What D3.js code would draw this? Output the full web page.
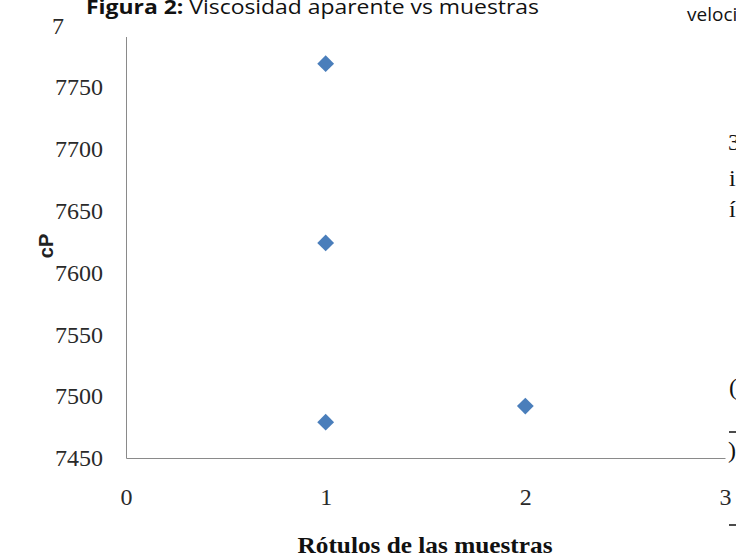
<!DOCTYPE html>
<html>
<head>
<meta charset="utf-8">
<script src="https://cdn.jsdelivr.net/npm/d3@7"></script>
<style>
  body { margin: 0; background: #fff; }
  svg { display: block; }
</style>
</head>
<body>
<div id="chart"></div>
<script>
// data
var sampleX = [1, 1, 1, 2];
var viscosity = [7769, 7624, 7479, 7492];
var yTicks = [7450, 7500, 7550, 7600, 7650, 7700, 7750, 7800];
var xTicks = [0, 1, 2, 3];

var W = 736, H = 557;
var svg = d3.select("#chart").append("svg")
    .attr("width", W)
    .attr("height", H);

// the caption band of the page hides the top of the chart
svg.append("clipPath").attr("id", "page")
    .append("path")
    .attr("d", "M0,0H66V37H" + W + "V" + H + "H0Z");

var plot = svg.append("g").attr("clip-path", "url(#page)");

var x = d3.scaleLinear().domain([0, 3]).range([126, 725]);
var y = d3.scaleLinear().domain([7450, 7800]).range([458, 25.4]);

// y axis
var yAxis = plot.append("g")
    .attr("transform", "translate(126,0)")
    .call(d3.axisLeft(y).tickValues(yTicks).tickSize(0).tickPadding(23).tickFormat(d3.format("d")));
yAxis.select(".domain").attr("stroke", "#8a8a8a");
yAxis.selectAll("text")
    .style("font-family", "'Liberation Serif', serif")
    .style("font-size", "24px")
    .attr("fill", "#2a2a2a");
// only the first digit of the top label shows in the scan
yAxis.selectAll(".tick text")
    .filter(function (d) { return d === 7800; })
    .text("7")
    .attr("x", -74)
    .style("text-anchor", "start");

// x axis
var xAxis = plot.append("g")
    .attr("transform", "translate(0,458)")
    .call(d3.axisBottom(x).tickValues(xTicks).tickSize(0).tickPadding(30).tickFormat(d3.format("d")));
xAxis.select(".domain").attr("stroke", "#8a8a8a");
xAxis.selectAll("text")
    .style("font-family", "'Liberation Serif', serif")
    .style("font-size", "24px")
    .attr("fill", "#2a2a2a");

// points
plot.selectAll(".pt")
    .data(viscosity)
    .enter()
    .append("path")
    .attr("class", "pt")
    .attr("d", d3.symbol().type(d3.symbolDiamond2).size(180))
    .attr("transform", function (d, i) { return "translate(" + x(sampleX[i]) + "," + y(d) + ")"; })
    .attr("fill", "#4a7ebb");

// axis titles
svg.append("text")
    .attr("transform", "translate(53,246) rotate(-90)")
    .style("text-anchor", "middle")
    .style("font-family", "'Liberation Sans', sans-serif")
    .style("font-weight", "bold")
    .style("font-size", "20px")
    .attr("fill", "#222")
    .text("cP");

svg.append("text")
    .attr("x", 425)
    .attr("y", 553)
    .style("text-anchor", "middle")
    .style("font-family", "'Liberation Serif', serif")
    .style("font-weight", "bold")
    .style("font-size", "24px")
    .attr("textLength", 255)
    .attr("lengthAdjust", "spacingAndGlyphs")
    .attr("fill", "#111")
    .text("Rótulos de las muestras");

// caption
var cap = svg.append("text")
    .attr("x", 86)
    .attr("y", 14)
    .style("font-family", "'Open Sans', sans-serif")
    .style("font-size", "20px")
    .attr("fill", "#111")
    .attr("textLength", 453)
    .attr("lengthAdjust", "spacingAndGlyphs");
cap.append("tspan").style("font-weight", "bold").text("Figura 2:");
cap.append("tspan").text(" Viscosidad aparente vs muestras");

svg.append("text")
    .attr("x", 687)
    .attr("y", 21)
    .style("font-family", "'Open Sans', sans-serif")
    .style("font-size", "19px")
    .attr("fill", "#111")
    .text("velocidad");

// bits of the neighbouring page text at the right edge
var edge = [["3", 728, 150], ["i", 729, 186], ["í", 729, 217], ["(", 729, 395], [")", 728, 458]];
svg.selectAll(".edge")
    .data(edge)
    .enter()
    .append("text")
    .attr("x", function (d) { return d[1]; })
    .attr("y", function (d) { return d[2]; })
    .style("font-family", "'Liberation Serif', serif")
    .style("font-size", "24px")
    .attr("fill", "#111")
    .text(function (d) { return d[0]; });

svg.append("line").attr("x1", 729).attr("x2", 736).attr("y1", 432).attr("y2", 432).attr("stroke", "#111").attr("stroke-width", 1.5);
svg.append("line").attr("x1", 729).attr("x2", 736).attr("y1", 525).attr("y2", 525).attr("stroke", "#111").attr("stroke-width", 1.5);

svg.append("text")
    .attr("x", 137).attr("y", 570)
    .style("font-family", "'Open Sans', sans-serif")
    .style("font-size", "17px")
    .attr("fill", "#111")
    .text("C");
svg.append("text")
    .attr("x", 593).attr("y", 570)
    .style("font-family", "'Open Sans', sans-serif")
    .style("font-size", "17px")
    .attr("fill", "#111")
    .text("6/20");
</script>
</body>
</html>
